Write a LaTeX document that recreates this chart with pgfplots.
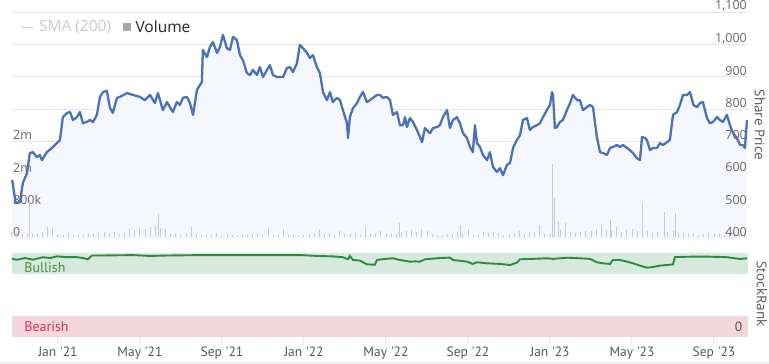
\documentclass[border=0pt]{standalone}
\usepackage{fontspec}
\setmainfont{Open Sans}
\newfontfamily\narrowfont{PT Sans}
\usepackage{pgfplots}
\usepackage{pgfplotstable}
\pgfplotsset{compat=1.18}
\definecolor{gridc}{HTML}{E6E6E6}
\definecolor{pricec}{HTML}{4A72B8}
\definecolor{areac}{HTML}{F6F7FC}
\definecolor{volc}{HTML}{C8C9CE}
\definecolor{tickc}{HTML}{666666}
\definecolor{titlec}{HTML}{555555}
\definecolor{rankc}{HTML}{2E8B3E}
\definecolor{bandg}{HTML}{D6E9DC}
\definecolor{bandr}{HTML}{F4D7DD}
\definecolor{bullc}{HTML}{4E8A3A}
\definecolor{bearc}{HTML}{D0345A}
\definecolor{smac}{HTML}{C8C8C8}

\pgfplotstableread{
m p
-2.23 579
-2.06 507
-1.85 510
-1.71 570
-1.51 600
-1.37 663
-1.22 666
-1.02 650
-0.88 657
-0.78 641
-0.54 666
-0.29 679
-0.05 694
0.10 704
0.24 775
0.44 788
0.59 791
0.73 766
0.93 775
1.07 791
1.22 756
1.41 760
1.56 766
1.71 760
1.90 782
2.05 838
2.20 853
2.39 857
2.54 803
2.68 788
2.88 835
3.02 838
3.37 850
3.66 844
4.00 838
4.24 828
4.49 844
4.73 819
4.88 850
5.12 797
5.32 822
5.46 806
5.61 791
5.80 822
5.95 813
6.10 835
6.29 838
6.44 819
6.59 782
6.78 860
6.93 875
7.02 884
7.07 984
7.27 962
7.41 993
7.56 1009
7.76 975
7.90 993
8.05 1031
8.24 990
8.39 984
8.54 1025
8.73 1015
8.88 968
9.02 953
9.22 912
9.37 906
9.51 922
9.71 906
9.85 931
10.00 900
10.20 922
10.34 937
10.49 906
10.68 900
10.98 900
11.17 928
11.32 931
11.46 915
11.66 943
11.80 1000
11.95 990
12.15 975
12.29 959
12.44 968
12.63 931
12.78 912
12.93 853
13.12 828
13.27 853
13.41 822
13.61 835
13.76 828
13.90 797
14.10 756
14.15 710
14.24 775
14.39 803
14.59 819
14.73 838
14.88 853
15.07 822
15.22 828
15.37 835
15.56 844
15.71 844
15.85 835
16.05 838
16.20 828
16.34 782
16.54 791
16.68 750
16.83 750
16.93 775
17.02 744
17.17 772
17.32 760
17.51 735
17.66 713
17.76 697
17.90 741
18.15 725
18.29 741
18.49 744
18.63 750
18.78 775
18.98 797
19.12 741
19.27 766
19.46 775
19.61 756
19.76 725
19.95 710
20.10 682
20.24 666
20.34 750
20.44 694
20.59 682
20.73 657
20.93 641
21.07 666
21.22 620
21.41 604
21.56 616
21.71 594
21.90 626
22.05 632
22.20 679
22.39 704
22.54 719
22.68 766
22.88 772
23.02 735
23.17 744
23.37 750
23.51 756
23.66 775
23.85 797
24.00 813
24.10 853
24.15 844
24.24 741
24.34 744
24.49 760
24.63 766
24.83 797
24.98 819
25.12 844
25.32 828
25.46 828
25.61 797
25.80 806
25.95 813
26.10 806
26.20 756
26.29 713
26.44 666
26.59 663
26.78 657
26.93 679
27.07 682
27.27 688
27.41 682
27.56 688
27.76 679
27.90 672
28.05 663
28.24 647
28.39 641
28.49 713
28.63 710
28.73 704
28.88 672
29.02 679
29.22 679
29.37 694
29.51 688
29.71 697
29.85 704
30.00 782
30.20 791
30.34 813
30.49 844
30.68 844
30.83 853
31.00 813
31.17 806
31.32 819
31.46 822
31.66 772
31.80 756
31.95 760
32.15 775
32.29 766
32.44 760
32.63 782
32.78 750
32.93 725
33.12 710
33.27 688
33.41 688
33.51 679
33.61 766
}\pricetable

\pgfplotstableread{
m v
-2.25 130
-2.00 110
-1.75 90
-1.50 100
-1.37 930
-1.25 120
-1.00 80
-0.75 140
-0.50 250
-0.25 230
0.00 90
0.25 70
0.50 110
0.75 60
1.00 80
1.25 70
1.50 120
1.75 90
2.00 100
2.25 140
2.50 120
2.75 130
3.00 80
3.25 110
3.50 210
3.75 180
4.00 240
4.25 200
4.50 250
4.75 290
4.88 580
5.00 230
5.25 200
5.50 90
5.75 110
6.00 70
6.25 100
6.50 250
6.75 80
7.00 60
7.25 90
7.50 70
7.75 110
8.00 60
8.25 80
8.50 70
8.75 50
9.00 90
9.25 60
9.50 80
9.75 110
10.00 90
10.25 230
10.50 70
10.75 90
11.00 200
11.25 60
11.50 80
11.75 70
12.00 60
12.25 90
12.50 110
12.75 190
13.00 80
13.25 100
13.50 70
13.75 170
14.00 90
14.25 80
14.50 120
14.75 70
15.00 260
15.25 90
15.50 110
15.75 170
16.00 80
16.25 100
16.50 90
16.68 360
16.75 110
17.00 160
17.25 190
17.50 140
17.75 200
18.00 150
18.25 90
18.50 70
18.75 60
19.00 80
19.25 90
19.50 130
19.61 310
19.75 100
20.00 220
20.25 70
20.50 90
20.75 130
21.00 100
21.25 140
21.50 120
21.75 60
22.00 80
22.25 110
22.50 150
22.75 90
23.00 130
23.25 100
23.51 320
23.75 90
24.00 120
24.10 1830
24.24 980
24.39 400
24.50 180
24.75 360
25.00 130
25.25 100
25.50 140
25.75 170
26.00 150
26.25 200
26.50 340
26.75 180
26.93 430
27.00 160
27.25 250
27.50 130
27.75 180
28.00 200
28.25 150
28.49 860
28.75 160
29.00 120
29.25 140
29.56 640
29.75 130
30.00 150
30.10 610
30.25 120
30.50 100
30.75 80
31.00 110
31.25 70
31.50 90
31.75 120
32.00 80
32.25 100
32.50 70
32.75 90
33.00 110
33.25 80
33.50 100
}\voltable

\pgfplotstableread{
m r
-2.24 93
-2.00 92
-1.61 94
-1.22 92
-0.73 95
-0.39 94
-0.05 96
0.44 95
0.93 95
1.22 94
1.46 92.5
1.66 97
2.05 97
3.66 97.5
4.49 96.5
5.32 97
6.93 97.5
9.37 97.5
11.80 97.5
12.63 96.5
13.41 96
13.90 95
14.15 92.5
14.24 96.5
14.39 91.7
14.73 91
15.07 86.5
15.46 86
15.56 91.7
15.95 93
16.34 93.7
16.68 91.7
17.17 89.7
17.41 90
17.66 89.7
17.90 92.5
18.63 94
19.12 94.5
19.27 91.7
19.95 89.7
20.24 87
20.44 89
20.93 87.7
21.56 87
22.05 85.7
22.39 88.5
22.54 92.5
23.17 93
23.85 93.7
24.15 93
24.83 94.4
25.46 93.7
25.95 93
26.29 89
26.59 87.7
26.93 87
27.07 91.7
27.41 91.7
27.76 89.7
28.05 87.7
28.39 85
28.73 82.5
29.02 83.3
29.37 85
29.71 85.7
30.00 86.5
30.10 95.2
30.83 95.6
31.80 95.6
32.63 95
33.27 92.9
33.61 93.7
}\ranktable

\begin{document}
\begin{tikzpicture}
\useasboundingbox (0,0) rectangle (769bp,364bp);
\pgfplotsset{
  base/.style={
    at={(12bp,124.9bp)}, anchor=south west,
    width=736bp, height=226.3bp, scale only axis,
    xmin=-2.24, xmax=33.66,
    axis line style={draw=none},
    xtick=\empty,
    tick style={draw=none},
    clip=false,
  }
}
% price axis: grid + area
\begin{axis}[base,
  ymin=395, ymax=1100,
  ytick={400,500,...,1100},
  yticklabels={},
  ymajorgrids, grid style={gridc, line width=1bp},
]
\addplot[draw=none, fill=areac] table[x=m,y=p]{\pricetable} \closedcycle;
\end{axis}
% volume axis
\begin{axis}[base,
  ymin=-40, ymax=5600,
  ytick={0,800,1600,2400},
  yticklabels={0,800k,2m,2m},
  yticklabel style={anchor=south west, xshift=0bp, yshift=0bp, font=\fontsize{12.5bp}{14bp}\selectfont, text=tickc, inner sep=1bp},
  legend style={at={(0.008,0.937)}, anchor=west, draw=none, fill=none,
     font=\fontsize{15.5bp}{17bp}\selectfont, legend columns=2,
     /tikz/every even column/.append style={column sep=10bp}},
  legend cell align=left,
  legend image code/.code={\draw[#1] (0bp,0bp) -- (11bp,0bp);},
]
\addlegendimage{smac, line width=1bp}
\addlegendentry{\hspace{4bp}\textcolor{smac}{SMA (200)}}
\addlegendimage{legend image code/.code={\fill[gray!70] (3bp,-3.5bp) rectangle (10bp,3.5bp);}}
\addlegendentry{\hspace{3bp}\textcolor{black!85}{Volume}}
\addplot[ycomb, volc, line width=0.9bp, forget plot] table[x=m,y=v]{\voltable};
\end{axis}
% price line
\begin{axis}[base,
  ymin=395, ymax=1100,
  ytick={400,500,...,1100},
  yticklabels={400,500,600,700,800,900,{1,000},{1,100}},
  yticklabel pos=right,
  yticklabel style={anchor=south east, font=\fontsize{12.5bp}{14bp}\selectfont, text=tickc, inner sep=1bp},
]
\addplot[pricec, line width=2.3bp, line join=round] table[x=m,y=p]{\pricetable};
\end{axis}
\node[rotate=-90, text=titlec, font=\fontsize{13.5bp}{16bp}\selectfont] at (760bp,239bp) {Share Price};

% stockrank axis
\begin{axis}[
  at={(12bp,27bp)}, anchor=south west,
  width=736bp, height=84bp, scale only axis,
  xmin=-2.24, xmax=33.66, ymin=0, ymax=100,
  axis line style={draw=none},
  ytick=\empty,
  xtick={0,4,...,32},
  xticklabels={Jan '21,May '21,Sep '21,Jan '22,May '22,Sep '22,Jan '23,May '23,Sep '23},
  xtick pos=bottom, tick align=outside,
  major tick length=7bp,
  tick style={gridc, line width=1bp},
  xticklabel style={font=\narrowfont\fontsize{13.5bp}{16bp}\selectfont, text=titlec, yshift=1bp},
  clip=false,
]
\addplot[draw=none, fill=bandg] coordinates {(-2.24,75) (-2.24,100) (33.66,100) (33.66,75)} -- cycle;
\addplot[draw=none, fill=bandr] coordinates {(-2.24,0) (-2.24,25) (33.66,25) (33.66,0)} -- cycle;
\addplot[rankc, line width=1.9bp] table[x=m,y=r]{\ranktable};
\node[anchor=west, text=bullc, font=\narrowfont\fontsize{14bp}{16bp}\selectfont] at (rel axis cs:0.012,0.82) {Bullish};
\node[anchor=west, text=bearc, font=\narrowfont\fontsize{14bp}{16bp}\selectfont] at (rel axis cs:0.012,0.12) {Bearish};
\node[anchor=east, text=titlec, font=\narrowfont\fontsize{13.5bp}{16bp}\selectfont] at (rel axis cs:0.997,0.12) {0};
\end{axis}
\node[rotate=-90, text=titlec, font=\fontsize{13.5bp}{16bp}\selectfont] at (762bp,70bp) {StockRank};
\fill[gridc!60] (0,0) rectangle (769bp,2bp);
\end{tikzpicture}
\end{document}
